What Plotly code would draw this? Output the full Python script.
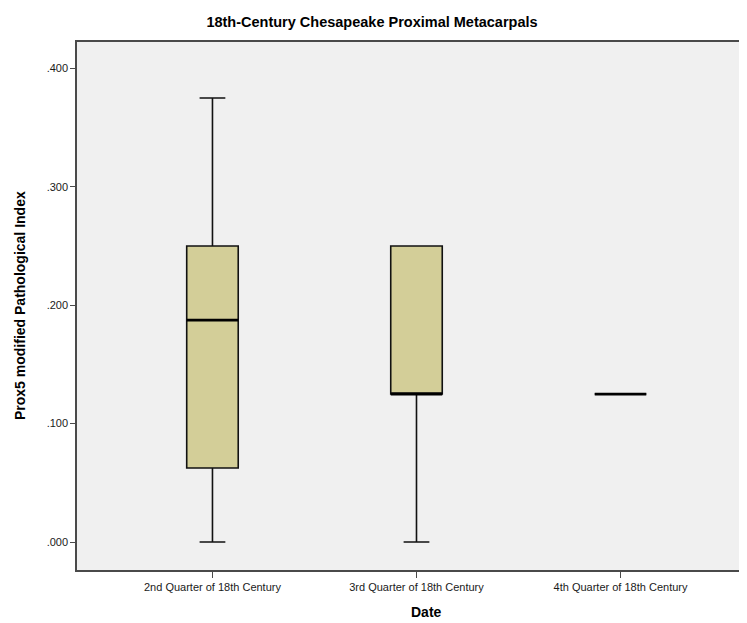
import plotly.graph_objects as go

categories = ["2nd Quarter of 18th Century", "3rd Quarter of 18th Century", "4th Quarter of 18th Century"]
lower_whisker = [0.0, 0.0, 0.125]
q1 = [0.0625, 0.125, 0.125]
median = [0.1875, 0.125, 0.125]
q3 = [0.25, 0.25, 0.125]
upper_whisker = [0.375, 0.25, 0.125]
y_tickvals = [0.0, 0.1, 0.2, 0.3, 0.4]
y_ticktext = [".000", ".100", ".200", ".300", ".400"]

positions = list(range(len(categories)))
box_w = 0.2525
font = "Liberation Sans, Arial, sans-serif"

fig = go.Figure()
fig.add_trace(go.Box(
    x=positions, q1=q1, median=median, q3=q3,
    lowerfence=lower_whisker, upperfence=upper_whisker,
    width=box_w, whiskerwidth=0.5,
    fillcolor="#D3CE98", line=dict(color="#111111", width=1.6),
    boxpoints=False, showlegend=False, hoverinfo="skip",
))
for i, m in enumerate(median):
    fig.add_trace(go.Scatter(
        x=[positions[i] - box_w / 2, positions[i] + box_w / 2], y=[m, m],
        mode="lines", line=dict(color="#000000", width=2.8),
        showlegend=False, hoverinfo="skip",
    ))

W, H = 739, 615
fig.update_layout(
    width=W, height=H,
    margin=dict(l=69, r=0, t=34, b=53),
    paper_bgcolor="white", plot_bgcolor="#F0F0F0",
    font=dict(family=font, color="#000000"),
    title=dict(text="<b>18th-Century Chesapeake Proximal Metacarpals</b>",
               x=(372 - 8) / W, xanchor="center", y=1 - 14 / H, yanchor="middle",
               font=dict(size=14.5, family=font, color="#000000")),
    xaxis=dict(range=[-0.664, 2.62], tickvals=positions, ticktext=categories,
               showgrid=False, zeroline=False, showline=True, linecolor="#4A4A4A",
               linewidth=1.5, mirror=True, ticks="outside", ticklen=6,
               tickcolor="#4A4A4A", tickfont=dict(size=11, family=font, color="#1A1A1A"),
               automargin=False),
    yaxis=dict(range=[-0.0236, 0.4223], tickvals=y_tickvals, ticktext=y_ticktext,
               showgrid=False, zeroline=False, showline=True, linecolor="#4A4A4A",
               linewidth=1.5, ticks="outside", ticklen=5, tickcolor="#4A4A4A",
               tickfont=dict(size=11, family=font, color="#1A1A1A"),
               automargin=False),
    annotations=[
        dict(text="<b>Date</b>", xref="paper", yref="paper", x=(426 - 77) / (W - 69), y=0,
             yshift=-42, xanchor="center", yanchor="middle",
             showarrow=False, font=dict(size=14, family=font, color="#000000")),
        dict(text="<b>Prox5 modified Pathological Index</b>", xref="paper", yref="paper",
             x=0, y=0.5, xshift=-57, xanchor="center", yanchor="middle", textangle=-90,
             showarrow=False, font=dict(size=14, family=font, color="#000000")),
    ],
)

fig.write_html("out.html")
